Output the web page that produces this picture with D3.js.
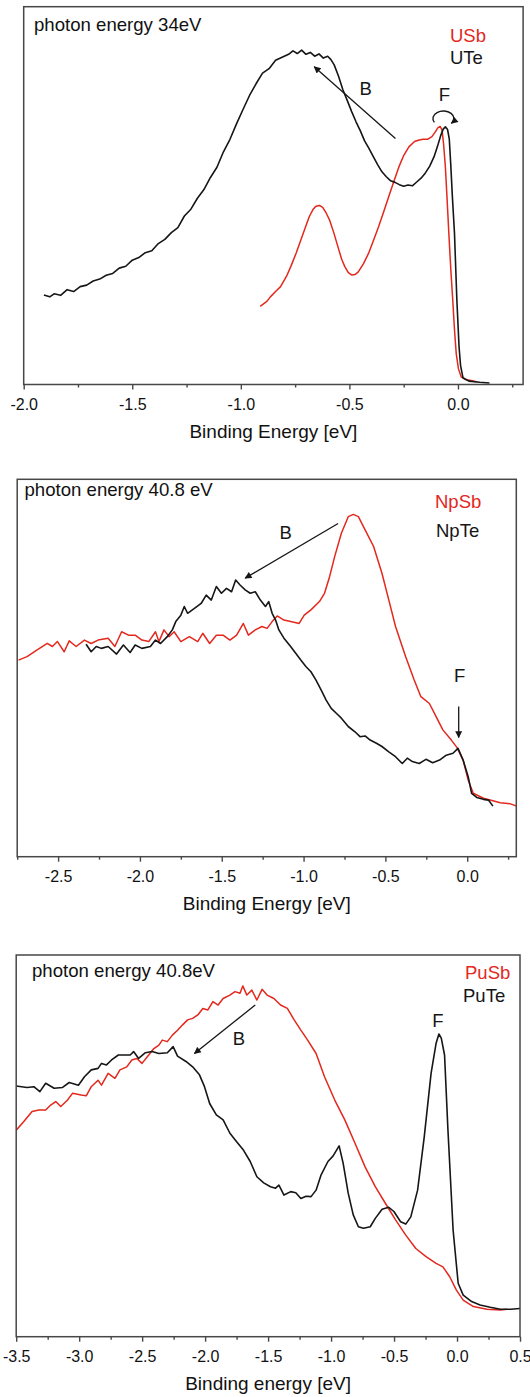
<!DOCTYPE html>
<html><head><meta charset="utf-8">
<script src="https://cdn.jsdelivr.net/npm/d3@7/dist/d3.min.js"></script>
<style>
html,body{margin:0;padding:0;background:#fff;}
text{font-family:"Liberation Sans",Arial,Helvetica,sans-serif;}
</style></head>
<body>
<svg id="c" width="530" height="1397"></svg>
<script>
// ---------------- DATA ----------------
// Panel 1 : photon energy 34 eV
const p1Majors = [-2.0, -1.5, -1.0, -0.5, 0.0];
const p1Minors = [-1.75, -1.25, -0.75, -0.25, 0.25];
const uteData = [
[-1.907,23.7],[-1.88,23.2],[-1.86,24.0],[-1.83,23.6],[-1.80,25.1],[-1.77,24.6],[-1.74,25.9],[-1.71,26.3],
[-1.68,27.4],[-1.65,27.9],[-1.62,28.9],[-1.59,29.4],[-1.56,30.8],[-1.53,31.3],[-1.50,32.9],[-1.47,33.6],
[-1.44,34.9],[-1.41,35.4],[-1.38,37.3],[-1.35,38.4],[-1.32,40.2],[-1.29,41.5],[-1.26,44.6],[-1.23,46.4],
[-1.20,49.3],[-1.17,51.6],[-1.14,54.8],[-1.11,57.5],[-1.08,61.6],[-1.05,64.9],[-1.02,69.0],[-0.99,72.8],
[-0.96,76.5],[-0.93,79.6],[-0.90,82.4],[-0.87,83.6],[-0.84,85.8],[-0.81,86.6],[-0.78,87.4],[-0.76,88.3],
[-0.74,87.6],[-0.72,88.5],[-0.70,87.4],[-0.68,87.9],[-0.66,86.9],[-0.64,87.5],[-0.62,86.4],[-0.60,86.9],
[-0.585,86.0],[-0.57,84.6],[-0.55,81.6],[-0.53,78.0],[-0.51,75.2],[-0.49,72.3],[-0.47,69.6],[-0.45,67.2],
[-0.43,64.5],[-0.41,62.5],[-0.39,60.3],[-0.37,58.2],[-0.35,56.3],[-0.33,55.0],[-0.31,53.9],[-0.29,53.5],
[-0.27,52.9],[-0.25,52.5],[-0.23,52.8],[-0.21,52.6],[-0.19,53.6],[-0.17,54.6],[-0.15,56.0],[-0.13,57.8],
[-0.11,60.3],[-0.095,62.9],[-0.08,65.8],[-0.068,67.6],[-0.058,68.2],[-0.048,67.5],[-0.040,65.0],[-0.033,58.0],
[-0.026,50.0],[-0.016,40.0],[-0.005,22.3],[0.005,10.0],[0.012,5.0],[0.023,1.8],[0.05,0.9],[0.10,0.6],[0.145,0.4]
];
const usbData = [
[-0.911,20.7],[-0.88,22.0],[-0.864,23.2],[-0.84,24.6],[-0.817,25.9],[-0.79,28.6],[-0.770,31.2],[-0.745,34.8],
[-0.724,38.2],[-0.70,42.0],[-0.685,44.4],[-0.668,46.3],[-0.654,47.2],[-0.638,47.4],[-0.623,46.9],[-0.607,45.4],
[-0.591,43.5],[-0.572,40.2],[-0.553,36.5],[-0.536,33.2],[-0.521,31.2],[-0.505,29.6],[-0.490,29.0],[-0.474,29.1],
[-0.459,29.8],[-0.435,32.0],[-0.412,34.7],[-0.39,38.0],[-0.366,41.7],[-0.342,45.7],[-0.319,49.7],[-0.295,53.8],
[-0.272,57.6],[-0.25,60.6],[-0.226,62.9],[-0.20,64.3],[-0.179,64.7],[-0.16,64.9],[-0.140,64.9],[-0.12,65.6],
[-0.105,66.8],[-0.092,68.0],[-0.082,68.3],[-0.073,67.3],[-0.066,63.5],[-0.058,57.6],[-0.050,49.0],[-0.042,40.0],
[-0.033,30.5],[-0.024,22.3],[-0.016,14.5],[-0.008,8.2],[0.002,4.2],[0.015,2.0],[0.035,1.3],[0.054,1.1],[0.085,0.7]
];

// Panel 2 : photon energy 40.8 eV
const p2Majors = [-2.5, -2.0, -1.5, -1.0, -0.5, 0.0];
const p2Minors = [-2.75, -2.25, -1.75, -1.25, -0.75, -0.25, 0.25];
const npsbData = [
[-2.742,52.1],[-2.690,53.0],[-2.628,54.8],[-2.566,56.5],[-2.535,55.7],[-2.504,57.0],[-2.463,54.3],[-2.432,57.2],
[-2.390,55.7],[-2.339,57.4],[-2.298,56.5],[-2.256,57.4],[-2.194,57.9],[-2.153,55.7],[-2.112,59.6],[-2.070,58.7],
[-2.029,58.7],[-1.988,57.4],[-1.946,57.0],[-1.905,59.6],[-1.884,57.0],[-1.853,60.1],[-1.822,58.3],[-1.791,59.6],
[-1.750,57.0],[-1.698,58.3],[-1.647,57.0],[-1.616,59.2],[-1.574,56.5],[-1.533,58.7],[-1.492,58.7],[-1.450,57.4],
[-1.409,58.7],[-1.368,61.8],[-1.337,58.7],[-1.295,60.1],[-1.254,61.0],[-1.223,60.5],[-1.192,62.3],[-1.161,63.8],
[-1.120,62.7],[-1.079,62.3],[-1.027,61.8],[-0.996,64.0],[-0.955,65.4],[-0.903,67.6],[-0.872,69.8],[-0.841,74.2],
[-0.810,79.5],[-0.769,85.7],[-0.727,90.1],[-0.696,90.7],[-0.665,90.1],[-0.624,86.6],[-0.572,82.2],[-0.521,75.1],
[-0.479,68.0],[-0.438,61.0],[-0.376,53.0],[-0.324,46.8],[-0.283,42.4],[-0.231,40.6],[-0.190,37.1],[-0.149,33.6],
[-0.097,30.9],[-0.062,28.9],[-0.025,25.6],[0.006,20.3],[0.037,16.8],[0.099,15.5],[0.140,15.0],[0.202,14.3],
[0.264,14.0],[0.302,13.4]
];
const npteData = [
[-2.329,56.3],[-2.298,54.3],[-2.267,55.7],[-2.236,55.2],[-2.194,55.7],[-2.143,53.7],[-2.101,56.1],[-2.060,54.1],
[-2.029,56.1],[-1.988,55.2],[-1.936,55.7],[-1.905,57.4],[-1.874,56.5],[-1.833,58.3],[-1.802,60.1],[-1.781,62.3],
[-1.750,64.0],[-1.729,66.3],[-1.709,64.5],[-1.667,65.8],[-1.626,67.1],[-1.595,69.3],[-1.564,68.0],[-1.533,71.6],
[-1.502,69.8],[-1.471,71.1],[-1.440,70.2],[-1.415,73.3],[-1.388,72.0],[-1.357,70.7],[-1.326,69.8],[-1.295,70.2],
[-1.264,68.0],[-1.233,66.3],[-1.213,67.6],[-1.192,64.5],[-1.171,62.7],[-1.151,60.1],[-1.120,57.9],[-1.079,55.7],
[-1.048,53.9],[-1.017,52.1],[-0.986,50.4],[-0.955,49.0],[-0.924,46.8],[-0.893,44.2],[-0.862,41.5],[-0.831,39.3],
[-0.800,38.0],[-0.769,36.7],[-0.727,34.5],[-0.686,33.1],[-0.655,31.8],[-0.624,32.0],[-0.593,30.9],[-0.552,30.0],
[-0.521,29.2],[-0.479,27.8],[-0.438,26.5],[-0.397,24.7],[-0.366,26.1],[-0.335,25.2],[-0.293,24.7],[-0.252,25.8],
[-0.211,24.9],[-0.169,25.6],[-0.128,26.9],[-0.087,27.4],[-0.056,28.7],[-0.025,25.6],[0.006,21.2],[0.027,16.8],
[0.058,15.7],[0.099,15.2],[0.130,15.0],[0.157,13.4]
];

// Panel 3 : photon energy 40.8 eV
const p3Majors = [-3.5, -3.0, -2.5, -2.0, -1.5, -1.0, -0.5, 0.0, 0.5];
const p3Minors = [-3.25, -2.75, -2.25, -1.75, -1.25, -0.75, -0.25, 0.25];
const pusbData = [
[-3.500,54.1],[-3.441,56.3],[-3.374,59.0],[-3.320,59.4],[-3.266,59.4],[-3.226,60.7],[-3.186,61.6],[-3.146,60.3],
[-3.092,62.0],[-3.052,63.8],[-2.985,63.3],[-2.944,63.1],[-2.904,65.5],[-2.850,67.2],[-2.823,65.9],[-2.770,69.0],
[-2.716,67.7],[-2.676,69.9],[-2.622,70.7],[-2.582,72.5],[-2.542,72.9],[-2.501,71.6],[-2.448,73.8],[-2.407,75.5],
[-2.367,76.4],[-2.340,77.7],[-2.300,77.3],[-2.260,79.0],[-2.219,80.3],[-2.179,81.7],[-2.139,83.0],[-2.099,83.4],
[-2.058,84.3],[-2.018,86.0],[-1.978,85.6],[-1.938,87.8],[-1.897,86.9],[-1.857,88.6],[-1.803,89.5],[-1.763,90.4],
[-1.723,90.0],[-1.701,91.9],[-1.669,89.5],[-1.629,90.8],[-1.589,88.2],[-1.548,91.0],[-1.508,89.5],[-1.454,88.6],
[-1.401,86.9],[-1.347,86.0],[-1.293,83.0],[-1.240,80.3],[-1.186,77.7],[-1.119,74.2],[-1.052,68.1],[-0.971,62.0],
[-0.891,56.8],[-0.810,50.7],[-0.730,44.5],[-0.649,39.3],[-0.568,34.9],[-0.488,30.6],[-0.407,26.6],[-0.327,23.1],
[-0.246,21.0],[-0.166,19.2],[-0.112,18.3],[-0.058,15.7],[-0.005,12.2],[0.049,9.6],[0.130,7.9],[0.237,7.2],
[0.344,7.0],[0.398,7.2]
];
const puteData = [
[-3.500,65.7],[-3.414,65.3],[-3.360,65.5],[-3.312,64.2],[-3.266,66.4],[-3.199,65.1],[-3.132,65.3],[-3.079,66.6],
[-3.006,65.9],[-2.958,68.1],[-2.904,69.9],[-2.850,70.3],[-2.823,71.6],[-2.783,71.2],[-2.743,72.5],[-2.689,73.8],
[-2.595,73.8],[-2.568,74.7],[-2.528,72.9],[-2.474,74.4],[-2.421,74.7],[-2.367,74.2],[-2.300,74.4],[-2.254,76.0],
[-2.219,73.5],[-2.152,72.1],[-2.099,70.7],[-2.045,68.6],[-2.005,65.5],[-1.964,61.1],[-1.911,58.1],[-1.857,56.8],
[-1.803,53.3],[-1.750,51.1],[-1.696,48.9],[-1.642,45.9],[-1.589,41.9],[-1.535,40.3],[-1.481,39.3],[-1.441,38.9],
[-1.414,39.7],[-1.374,37.1],[-1.320,38.0],[-1.280,37.7],[-1.240,36.2],[-1.199,36.8],[-1.159,36.7],[-1.119,38.4],
[-1.079,42.4],[-1.025,45.9],[-0.985,47.3],[-0.936,50.0],[-0.904,45.4],[-0.864,37.6],[-0.824,31.9],[-0.783,28.8],
[-0.743,28.4],[-0.689,28.8],[-0.649,31.0],[-0.595,33.4],[-0.542,33.9],[-0.501,32.8],[-0.448,30.1],[-0.407,29.5],
[-0.367,31.4],[-0.313,38.4],[-0.260,52.4],[-0.206,69.0],[-0.166,76.9],[-0.144,79.3],[-0.125,78.2],[-0.099,73.8],
[-0.072,54.1],[-0.031,27.9],[0.009,14.0],[0.049,10.9],[0.116,9.2],[0.183,8.3],[0.264,7.7],[0.344,7.2],
[0.425,7.2],[0.500,7.4]
];

// Text labels
const panelTitles = ["photon energy 34eV", "photon energy 40.8 eV", "photon energy 40.8eV"];
const sbNames = ["USb", "NpSb", "PuSb"];
const teNames = ["UTe", "NpTe", "PuTe"];
const axisTitles = ["Binding Energy [eV]", "Binding Energy [eV]", "Binding energy [eV]"];

// Annotation anchors in data units [eV, intensity]
const p1ArrowB = [[-0.288,65.1],[-0.662,84.1]];
const p1LabelB = [-0.425,76.6];
const p1LabelF = [-0.062,75.1];
const p1LoopF = [-0.067,70.7];
const p2ArrowB = [[-0.789,88.3],[-1.357,73.8]];
const p2LabelB = [-1.110,84.1];
const p2LabelF = [-0.046,46.4];
const p2ArrowF = [[-0.052,39.8],[-0.052,31.6]];
const p3ArrowB = [[-1.602,86.9],[-2.085,74.2]];
const p3LabelB = [-1.731,76.4];
const p3LabelF = [-0.152,81.2];

// ---------------- LAYOUT ----------------
const RED = "#e3281d", BLACK = "#161616", FRAME = "#474747";
const layouts = [
  {left:23.7, right:523.1, top:6.7, bottom:384.5, domain:[-2.0,0.3], majors:p1Majors, minors:p1Minors,
   titleX:34, titleY:30.5, sbX:450, sbY:41.5, teX:450, teY:64},
  {left:17.2, right:516.3, top:479.3, bottom:856.7, domain:[-2.75,0.3], majors:p2Majors, minors:p2Minors,
   titleX:24.5, titleY:496, sbX:435, sbY:507.5, teX:436, teY:536.7},
  {left:16.2, right:520.0, top:955.0, bottom:1336.7, domain:[-3.5,0.5], majors:p3Majors, minors:p3Minors,
   titleX:32, titleY:977, sbX:465, sbY:978.5, teX:463, teY:1001.5}
];
const seriesSb = [usbData, npsbData, pusbData];
const seriesTe = [uteData, npteData, puteData];

const svg = d3.select("#c");
svg.append("rect").attr("width",530).attr("height",1397).attr("fill","#fff");

const defs = svg.append("defs");
defs.append("marker").attr("id","ah").attr("viewBox","0 0 10 10")
  .attr("refX",9).attr("refY",5).attr("markerWidth",9).attr("markerHeight",7)
  .attr("markerUnits","userSpaceOnUse").attr("orient","auto")
  .append("path").attr("d","M0,0 L10,5 L0,10 Z").attr("fill",BLACK);

const fmt = d => (Math.abs(d) < 1e-9 ? 0 : d).toFixed(1);

layouts.forEach((L, i) => {
  const x = d3.scaleLinear().domain(L.domain).range([L.left, L.right]);
  const y = d3.scaleLinear().domain([0,100]).range([L.bottom, L.top]);
  const g = svg.append("g");

  const cid = "clip"+i;
  defs.append("clipPath").attr("id",cid).append("rect")
    .attr("x",L.left).attr("y",L.top).attr("width",L.right-L.left).attr("height",L.bottom-L.top);

  const line = d3.line().x(d=>x(d[0])).y(d=>y(d[1])).curve(d3.curveLinear);
  const plot = g.append("g").attr("clip-path",`url(#${cid})`);
  plot.append("path").datum(seriesSb[i]).attr("d",line).attr("fill","none")
    .attr("stroke",RED).attr("stroke-width",1.5).attr("stroke-linejoin","round");
  plot.append("path").datum(seriesTe[i]).attr("d",line).attr("fill","none")
    .attr("stroke",BLACK).attr("stroke-width",1.6).attr("stroke-linejoin","round");

  g.append("rect").attr("x",L.left).attr("y",L.top).attr("width",L.right-L.left)
    .attr("height",L.bottom-L.top).attr("fill","none").attr("stroke",FRAME).attr("stroke-width",1.5);

  const ax = g.append("g").attr("transform",`translate(0,${L.bottom})`)
    .call(d3.axisBottom(x).tickValues(L.majors).tickFormat(fmt).tickSize(5).tickSizeOuter(0));
  ax.select(".domain").remove();
  ax.selectAll("line").attr("stroke",FRAME).attr("stroke-width",1.4);
  ax.selectAll("text").attr("y",25.5).attr("dy",0).attr("font-size",16).attr("fill","#111")
    .attr("font-family","Liberation Sans, Arial, sans-serif");
  const axm = g.append("g").attr("transform",`translate(0,${L.bottom})`)
    .call(d3.axisBottom(x).tickValues(L.minors).tickFormat("").tickSize(3).tickSizeOuter(0));
  axm.select(".domain").remove();
  axm.selectAll("line").attr("stroke",FRAME).attr("stroke-width",1.4);

  g.append("text").attr("x",(L.left+L.right)/2).attr("y",L.bottom+53.3).attr("text-anchor","middle")
    .attr("font-size",19).attr("fill","#111").text(axisTitles[i]);

  g.append("text").attr("x",L.titleX).attr("y",L.titleY).attr("font-size",18.6).attr("fill","#111").text(panelTitles[i]);
  g.append("text").attr("x",L.sbX).attr("y",L.sbY).attr("font-size",18.5).attr("fill",RED).text(sbNames[i]);
  g.append("text").attr("x",L.teX).attr("y",L.teY).attr("font-size",18.5).attr("fill",BLACK).text(teNames[i]);

  const arrow = (pts) => g.append("line")
    .attr("x1",x(pts[0][0])).attr("y1",y(pts[0][1])).attr("x2",x(pts[1][0])).attr("y2",y(pts[1][1]))
    .attr("stroke",BLACK).attr("stroke-width",1.3).attr("marker-end","url(#ah)");
  const label = (p, t) => g.append("text").attr("x",x(p[0])).attr("y",y(p[1])).attr("text-anchor","middle")
    .attr("font-size",18.5).attr("fill",BLACK).text(t);

  if (i === 0) {
    arrow(p1ArrowB); label(p1LabelB,"B"); label(p1LabelF,"F");
    const cx = x(p1LoopF[0]), cy = y(p1LoopF[1]);
    g.append("path").attr("d",`M${cx-9},${cy+5} A10.5,7.5 0 1 1 ${cx+8},${cy+6}`)
      .attr("fill","none").attr("stroke",BLACK).attr("stroke-width",1.4).attr("marker-end","url(#ah)");
  } else if (i === 1) {
    arrow(p2ArrowB); label(p2LabelB,"B"); label(p2LabelF,"F"); arrow(p2ArrowF);
  } else {
    arrow(p3ArrowB); label(p3LabelB,"B"); label(p3LabelF,"F");
  }
});
</script>
</body></html>
